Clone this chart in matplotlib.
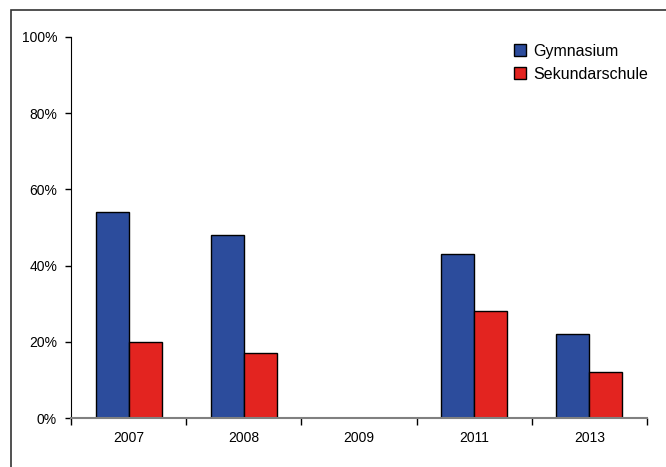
import matplotlib.pyplot as plt
from matplotlib.patches import Rectangle
import numpy as np

plt.rcParams['font.family'] = ['Liberation Sans', 'DejaVu Sans']

years = ['2007', '2008', '2009', '2011', '2013']
gymnasium = [54, 48, 0, 43, 22]
sekundarschule = [20, 17, 0, 28, 12]

W, H = 666, 467
fig = plt.figure(figsize=(W / 100, H / 100), dpi=100)

# frame around the chart (right and bottom edges run off the image)
fig.patches.append(Rectangle((11 / W, -0.05), 1.1, 1 - 10 / H + 0.05,
                             transform=fig.transFigure, fill=False,
                             edgecolor='#333333', linewidth=1.2))

ax = fig.add_axes([71 / W, 1 - 418 / H, (647 - 71) / W, (418 - 37) / H])

x = np.arange(len(years))
w = 0.287
ax.bar(x - w / 2, gymnasium, w, color='#2c4c9c', edgecolor='black', linewidth=1, label='Gymnasium')
ax.bar(x + w / 2, sekundarschule, w, color='#e32420', edgecolor='black', linewidth=1, label='Sekundarschule')

ax.set_xlim(-0.5, len(years) - 0.5)
ax.set_ylim(0, 100)
ax.set_yticks(range(0, 101, 20))
ax.set_yticklabels([f'{v}%' for v in range(0, 101, 20)])
ax.set_xticks(x)
ax.set_xticklabels(years)
ax.set_xticks(np.arange(-0.5, len(years)), minor=True)
ax.tick_params(axis='x', which='major', length=0, pad=9, labelsize=10)
ax.tick_params(axis='x', which='minor', length=5, width=1, direction='out', color='black')
ax.tick_params(axis='y', length=4, width=1, direction='out', labelsize=10, pad=6)

for s in ['top', 'right']:
    ax.spines[s].set_visible(False)
ax.spines['left'].set_color('black')
ax.spines['bottom'].set_color('#808080')
ax.spines['bottom'].set_linewidth(1.5)

ax.legend(loc='upper left', bbox_to_anchor=(0.745, 1.02), frameon=False, fontsize=11.5,
          handlelength=0.75, handleheight=0.75, handletextpad=0.4, labelspacing=0.5)

plt.savefig('out.png', dpi=100)
